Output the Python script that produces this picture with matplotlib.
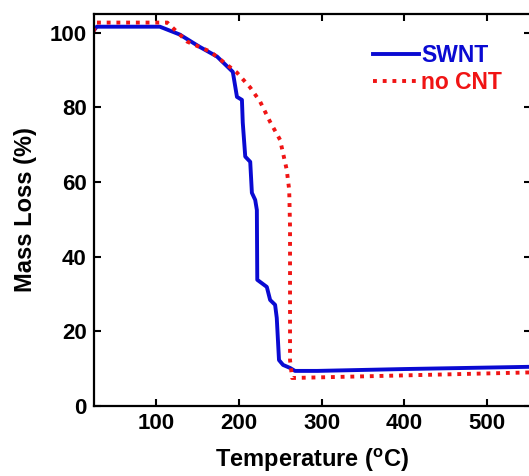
import numpy as np
import matplotlib
matplotlib.use("Agg")
import matplotlib.pyplot as plt

# SWNT curve (temperature in C, mass %)
swnt_t = [25, 29, 105, 129, 153, 174, 193, 198, 204, 205, 208, 214, 216, 220, 222,
          222.5, 234, 238, 244, 246, 248.7, 253.6, 262, 268, 295, 400, 552]
swnt_m = [100.5, 101.6, 101.6, 99.5, 96.2, 93.6, 89.5, 82.8, 82.0, 75.9, 66.8, 65.4,
          57.1, 55.2, 52.5, 33.8, 31.9, 28.4, 27.1, 23.6, 12.3, 11.0, 10.2, 9.4,
          9.4, 9.9, 10.5]

# no CNT curve
ncnt_t = [25, 29, 114, 138, 166, 198, 214, 226, 238, 250, 258, 261, 262, 262, 264.5,
          400, 552]
ncnt_m = [100.3, 102.7, 102.7, 97.6, 94.9, 89.3, 85.3, 81.5, 76.1, 71.3, 63.3, 57.9,
          48.0, 12.3, 7.5, 8.2, 9.0]

x_ticks = [100, 200, 300, 400, 500]
y_ticks = [0, 20, 40, 60, 80, 100]

plt.rcParams["font.family"] = "Liberation Sans"
plt.rcParams["font.weight"] = "bold"
plt.rcParams["mathtext.fontset"] = "custom"
plt.rcParams["mathtext.rm"] = "Liberation Sans:bold"
plt.rcParams["mathtext.bf"] = "Liberation Sans:bold"

fig = plt.figure(figsize=(5.29, 4.76), dpi=100)
ax = fig.add_axes([93.5 / 529, 70 / 476, 437 / 529, 392 / 476])

ax.plot(swnt_t, swnt_m, color="#0a0ad2", lw=2.8, label="SWNT")
ax.plot(ncnt_t, ncnt_m, color="#f01414", lw=2.8, linestyle=(0, (1, 1.5)),
        label="no CNT")

ax.set_xlim(25, 552)
ax.set_ylim(0, 105)
ax.set_xticks(x_ticks)
ax.set_yticks(y_ticks)
ax.tick_params(direction="in", length=5, width=1.5, labelsize=16,
               top=True, right=True, pad=5)
for s in ax.spines.values():
    s.set_linewidth(1.6)

ax.set_xlabel("Temperature ($^{\\mathrm{o}}$C)", fontsize=17, fontweight="bold",
              labelpad=9)
ax.set_ylabel("Mass Loss (%)", fontsize=17, fontweight="bold", labelpad=9)

leg = ax.legend(loc="upper right", frameon=False, fontsize=16.5, handlelength=2.0,
                handletextpad=0.1, labelspacing=0.15, labelcolor="linecolor",
                bbox_to_anchor=(0.982, 0.975))

fig.savefig("out.png", dpi=100)
